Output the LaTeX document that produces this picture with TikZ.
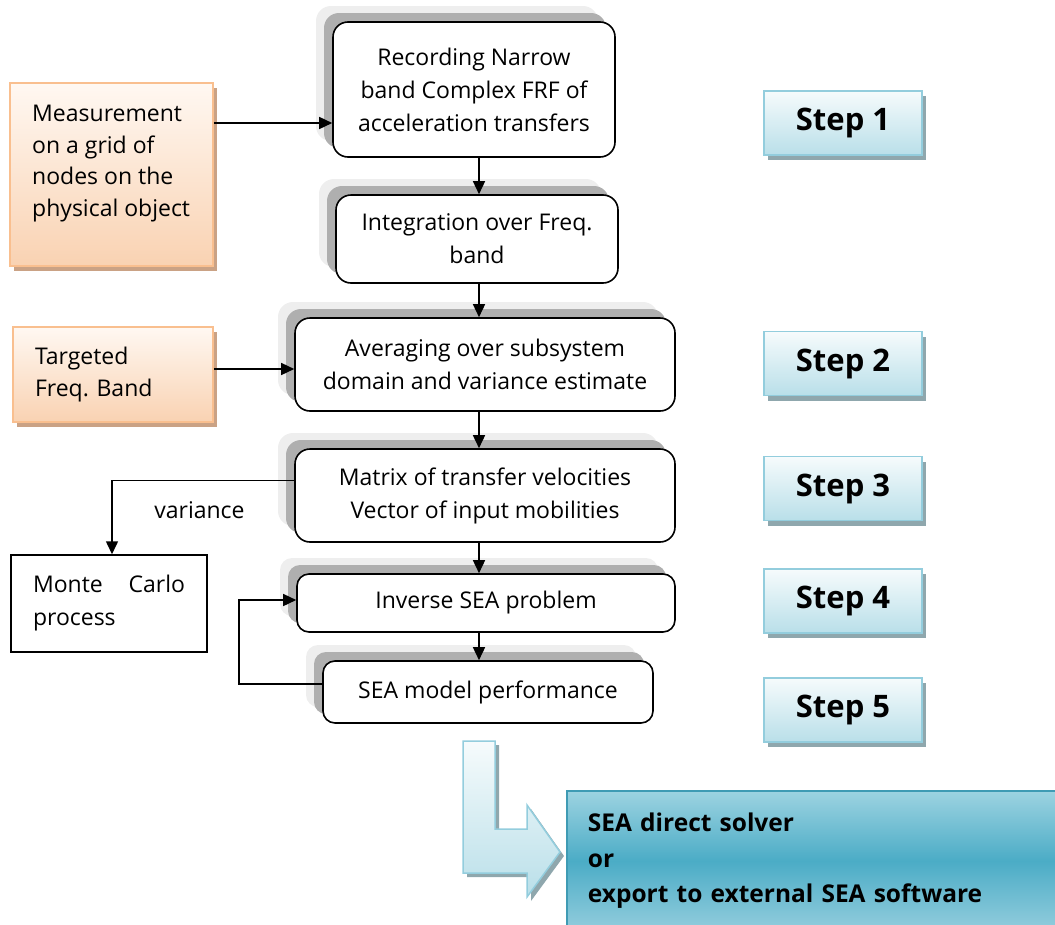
\documentclass[tikz,border=0pt]{standalone}
\usepackage{fontspec}
\setmainfont{Open Sans}
\usetikzlibrary{shadows,arrows.meta}
\definecolor{shLight}{HTML}{EEEEEE}
\definecolor{shDark}{HTML}{AFAFAF}
\definecolor{orTop}{HTML}{FFF8F2}
\definecolor{orBot}{HTML}{F9D2B2}
\definecolor{orBorder}{HTML}{F9BF8F}
\definecolor{orShadow}{HTML}{CAA285}
\definecolor{stTop}{HTML}{F6FBFC}
\definecolor{stBot}{HTML}{B9DFE9}
\definecolor{stBorder}{HTML}{93CDDD}
\definecolor{stShadow}{HTML}{8FA7AD}
\definecolor{bgTop}{HTML}{9DD3E1}
\definecolor{bgMid}{HTML}{4BACC6}
\definecolor{bgBot}{HTML}{93CDDD}
\definecolor{bgBorder}{HTML}{3F9BB4}
\frenchspacing
\begin{document}
\begin{tikzpicture}[x=1pt,y=-1pt,
  flow/.style={draw=black, line width=1.6pt, rounded corners=15pt, fill=white,
    align=center, inner sep=0pt, font=\fontsize{23}{33}\selectfont,
    general shadow={fill=shLight, rounded corners=15pt, shadow xshift=-17pt, shadow yshift=16pt},
    general shadow={fill=shDark, rounded corners=15pt, shadow xshift=-9pt, shadow yshift=9pt}},
  inbox/.style={draw=orBorder, line width=1.5pt, top color=orTop, bottom color=orBot,
    general shadow={fill=orShadow, shadow xshift=4pt, shadow yshift=-5pt},
    inner sep=0pt},
  stepbox/.style={draw=stBorder, line width=1.5pt, top color=stTop, bottom color=stBot,
    general shadow={fill=stShadow, shadow xshift=4pt, shadow yshift=-5pt},
    minimum width=158pt, minimum height=64pt, inner sep=0pt,
    font=\fontsize{31}{36}\selectfont\bfseries},
  txt/.style={font=\fontsize{23}{31.5}\selectfont, inner sep=0pt},
  arr/.style={line width=1.5pt, -{Triangle[length=13pt,width=12pt]}},
]
\useasboundingbox (0,0) rectangle (1055,924);

% main flow boxes
\node[flow, minimum width=282pt, minimum height=135pt] (rec) at (474,89.5)
  {Recording Narrow\\band Complex FRF of\\acceleration transfers};
\node[flow, minimum width=282pt, minimum height=88pt] (integ) at (477,239)
  {Integration over Freq.\\band};
\node[flow, minimum width=380pt, minimum height=93pt] (avg) at (485,364.5)
  {Averaging over subsystem\\domain and variance estimate};
\node[flow, minimum width=380pt, minimum height=93pt] (mat) at (485,495.5)
  {Matrix of transfer velocities\\Vector of input mobilities};
\node[flow, minimum width=378pt, minimum height=58pt, rounded corners=12pt] (inv) at (486,603)
  {Inverse SEA problem};
\node[flow, minimum width=330pt, minimum height=62pt, rounded corners=12pt] (perf) at (488,692)
  {SEA model performance};

% input boxes
\node[inbox, minimum width=203pt, minimum height=183pt] (meas) at (111.5,174.5) {};
\node[txt, anchor=north west, align=left] (meastxt) at (32,105)
  {Measurement\\on a grid of\\nodes on the\\physical object};
\node[inbox, minimum width=200pt, minimum height=95pt, text width=156pt, align=left,
  font=\fontsize{23}{31.5}\selectfont] (targ) at (113,374.5)
  {Targeted\\Freq. Band};

% Monte Carlo
\node[draw=black, line width=1.5pt, minimum width=196pt, minimum height=97pt,
  text width=152pt, align=left, inner sep=0pt, font=\fontsize{23}{33}\selectfont] (mc) at (109,603.5)
  {Monte\hfill Carlo\\process};

% steps
\node[stepbox] (s1) at (843,123) {Step 1};
\node[stepbox] (s2) at (843,363.5) {Step 2};
\node[stepbox] (s3) at (843,488.5) {Step 3};
\node[stepbox] (s4) at (843,601) {Step 4};
\node[stepbox] (s5) at (843,710) {Step 5};

% connectors
\coordinate (ax) at (479,0);
\coordinate (ya) at (0,123);
\coordinate (yb) at (0,369);
\draw[arr] (meas.east |- ya) -- (rec.west |- ya);
\draw[arr] (rec.south -| ax) -- (integ.north -| ax);
\draw[arr] (integ.south -| ax) -- (avg.north -| ax);
\draw[arr] (targ.east |- yb) -- (avg.west |- yb);
\draw[arr] (avg.south -| ax) -- (mat.north -| ax);
\draw[arr] (mat.south -| ax) -- (inv.north -| ax);
\draw[arr] (inv.south -| ax) -- (perf.north -| ax);
\draw[arr] ([yshift=15pt]mat.west) -| ([xshift=3pt]mc.north)
  node[pos=0.26, below=20pt, txt] (var) {variance};
\draw[arr] ([yshift=8pt]perf.west) -- ++(-83,0) |- ([yshift=3pt]inv.west);

% big L arrow
\fill[stShadow] (467,745) -- (499,745) -- (499,833) -- (531,833) -- (531,809)
  -- (564,856) -- (531,901) -- (531,877) -- (467,877) -- cycle;
\draw[stBorder, line width=1.5pt, top color=stTop, bottom color=stBot]
  (463,741) -- (495,741) -- (495,829) -- (527,829) -- (527,805)
  -- (560,852) -- (527,897) -- (527,873) -- (463,873) -- cycle;

% result box
\node[draw=bgBorder, line width=1.8pt, top color=bgTop, bottom color=bgBot, middle color=bgMid,
  minimum width=500pt, minimum height=140pt, anchor=north west, text width=458pt,
  align=left, inner sep=0pt, font=\fontsize{24.5}{35.5}\selectfont\bfseries] (res) at (566,790)
  {SEA direct solver\\or\\export to external SEA software\vphantom{g}};
\end{tikzpicture}
\end{document}
